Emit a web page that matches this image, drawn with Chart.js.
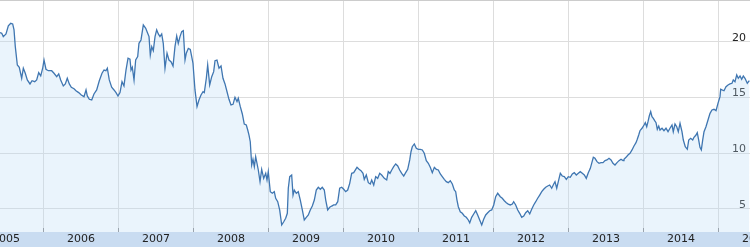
<!DOCTYPE html>
<html>
<head>
  <meta charset="utf-8">
  <title>Chart</title>
  <script src="https://cdn.jsdelivr.net/npm/chart.js@4.4.1/dist/chart.umd.min.js"></script>
  <style>
    html, body { margin: 0; padding: 0; background: #fff; }
    #wrap { width: 750px; height: 247px; }
  </style>
</head>
<body>
  <div id="wrap"><canvas id="myChart" width="750" height="247"></canvas></div>

  <script>
    // time as decimal years, value of the series
    const times = [
      2005.420, 2005.443, 2005.464, 2005.500, 2005.531, 2005.563, 2005.589, 2005.607, 2005.624, 2005.651,
      2005.677, 2005.709, 2005.731, 2005.757, 2005.784, 2005.820, 2005.847, 2005.883, 2005.909, 2005.936,
      2005.963, 2005.989, 2006.007, 2006.033, 2006.064, 2006.109, 2006.140, 2006.176, 2006.203, 2006.229,
      2006.264, 2006.291, 2006.317, 2006.344, 2006.371, 2006.407, 2006.433, 2006.469, 2006.504, 2006.540,
      2006.567, 2006.584, 2006.611, 2006.643, 2006.673, 2006.709, 2006.744, 2006.780, 2006.807, 2006.833,
      2006.851, 2006.877, 2006.909, 2006.940, 2006.967, 2006.993, 2007.020, 2007.047, 2007.073, 2007.100,
      2007.127, 2007.153, 2007.167, 2007.184, 2007.207, 2007.229, 2007.256, 2007.273, 2007.300, 2007.331,
      2007.363, 2007.389, 2007.407, 2007.424, 2007.443, 2007.464, 2007.487, 2007.509, 2007.531, 2007.553,
      2007.576, 2007.597, 2007.620, 2007.647, 2007.673, 2007.700, 2007.727, 2007.753, 2007.776, 2007.797,
      2007.820, 2007.843, 2007.864, 2007.887, 2007.904, 2007.931, 2007.957, 2007.976, 2007.993, 2008.020,
      2008.047, 2008.073, 2008.100, 2008.127, 2008.144, 2008.171, 2008.189, 2008.216, 2008.243, 2008.269,
      2008.287, 2008.313, 2008.340, 2008.367, 2008.393, 2008.420, 2008.447, 2008.473, 2008.500, 2008.527,
      2008.553, 2008.580, 2008.597, 2008.624, 2008.651, 2008.677, 2008.704, 2008.723, 2008.740, 2008.757,
      2008.776, 2008.793, 2008.811, 2008.829, 2008.864, 2008.887, 2008.909, 2008.936, 2008.963, 2008.980,
      2008.997, 2009.024, 2009.051, 2009.077, 2009.096, 2009.123, 2009.149, 2009.176, 2009.203, 2009.229,
      2009.251, 2009.264, 2009.283, 2009.309, 2009.327, 2009.344, 2009.371, 2009.397, 2009.424, 2009.451,
      2009.477, 2009.504, 2009.531, 2009.557, 2009.584, 2009.611, 2009.637, 2009.664, 2009.691, 2009.717,
      2009.744, 2009.763, 2009.789, 2009.816, 2009.843, 2009.869, 2009.896, 2009.923, 2009.949, 2009.976,
      2010.003, 2010.029, 2010.056, 2010.083, 2010.109, 2010.136, 2010.163, 2010.180, 2010.207, 2010.233,
      2010.260, 2010.277, 2010.304, 2010.331, 2010.357, 2010.376, 2010.403, 2010.429, 2010.456, 2010.483,
      2010.509, 2010.544, 2010.576, 2010.597, 2010.620, 2010.643, 2010.669, 2010.696, 2010.723, 2010.749,
      2010.776, 2010.803, 2010.829, 2010.856, 2010.883, 2010.900, 2010.917, 2010.944, 2010.971, 2010.997,
      2011.024, 2011.051, 2011.077, 2011.104, 2011.131, 2011.157, 2011.184, 2011.211, 2011.237, 2011.264,
      2011.291, 2011.317, 2011.344, 2011.371, 2011.397, 2011.424, 2011.451, 2011.477, 2011.496, 2011.513,
      2011.531, 2011.557, 2011.584, 2011.611, 2011.637, 2011.664, 2011.683, 2011.709, 2011.736, 2011.763,
      2011.789, 2011.816, 2011.843, 2011.869, 2011.896, 2011.923, 2011.949, 2011.976, 2012.003, 2012.029,
      2012.056, 2012.091, 2012.117, 2012.144, 2012.171, 2012.197, 2012.224, 2012.251, 2012.269, 2012.296,
      2012.323, 2012.349, 2012.376, 2012.403, 2012.429, 2012.456, 2012.483, 2012.509, 2012.536, 2012.563,
      2012.589, 2012.616, 2012.643, 2012.669, 2012.696, 2012.723, 2012.749, 2012.776, 2012.803, 2012.820,
      2012.843, 2012.864, 2012.891, 2012.917, 2012.944, 2012.971, 2012.997, 2013.024, 2013.051, 2013.077,
      2013.104, 2013.131, 2013.157, 2013.184, 2013.211, 2013.237, 2013.264, 2013.291, 2013.309, 2013.331,
      2013.353, 2013.380, 2013.407, 2013.433, 2013.460, 2013.487, 2013.513, 2013.540, 2013.567, 2013.593,
      2013.620, 2013.647, 2013.673, 2013.700, 2013.727, 2013.740, 2013.767, 2013.793, 2013.820, 2013.847,
      2013.873, 2013.900, 2013.917, 2013.936, 2013.953, 2013.980, 2014.007, 2014.024, 2014.043, 2014.060,
      2014.077, 2014.096, 2014.113, 2014.131, 2014.149, 2014.167, 2014.184, 2014.203, 2014.220, 2014.247,
      2014.273, 2014.300, 2014.327, 2014.353, 2014.380, 2014.397, 2014.420, 2014.443, 2014.464, 2014.487,
      2014.513, 2014.531, 2014.557, 2014.584, 2014.603, 2014.629, 2014.656, 2014.673, 2014.700, 2014.717,
      2014.736, 2014.753, 2014.771, 2014.789, 2014.807, 2014.833, 2014.860, 2014.887, 2014.913, 2014.940,
      2014.967, 2014.993, 2015.020, 2015.029, 2015.047, 2015.073, 2015.100, 2015.127, 2015.153, 2015.180,
      2015.197, 2015.220, 2015.243, 2015.264, 2015.287, 2015.309, 2015.331, 2015.353, 2015.384, 2015.411
    ];

    const values = [
      20.84, 20.78, 20.48, 20.72, 21.44, 21.68, 21.62, 21.08, 19.58, 17.93,
      17.73, 16.74, 17.64, 17.19, 16.59, 16.23, 16.52, 16.43, 16.59, 17.24,
      16.95, 17.64, 18.38, 17.55, 17.42, 17.42, 17.19, 16.88, 17.13, 16.59,
      16.05, 16.23, 16.74, 16.23, 15.93, 15.80, 15.62, 15.45, 15.24, 15.09,
      15.69, 15.15, 14.85, 14.79, 15.33, 15.69, 16.52, 17.19, 17.48, 17.42,
      17.64, 16.59, 15.93, 15.69, 15.45, 15.15, 15.45, 16.43, 16.05, 17.48,
      18.54, 18.45, 17.48, 17.73, 16.59, 18.38, 18.68, 19.88, 20.18, 21.53,
      21.23, 20.78, 20.48, 18.83, 19.58, 19.22, 20.48, 21.08, 20.72, 20.48,
      20.72, 19.88, 17.64, 18.99, 18.38, 18.23, 17.84, 19.58, 20.54, 19.88,
      20.48, 20.93, 21.02, 18.38, 18.99, 19.43, 19.34, 18.68, 18.09, 15.69,
      14.19, 14.79, 15.24, 15.53, 15.45, 16.74, 17.93, 16.14, 16.88, 17.33,
      18.32, 18.38, 17.64, 17.84, 16.74, 16.23, 15.53, 14.85, 14.34, 14.40,
      15.03, 14.64, 14.94, 14.19, 13.53, 12.63, 12.54, 12.09, 11.64, 11.04,
      8.95, 9.46, 8.80, 9.69, 8.50, 7.45, 8.56, 7.75, 8.20, 7.60,
      8.35, 6.55, 6.41, 6.55, 5.96, 5.65, 4.91, 3.56, 3.85, 4.16,
      4.61, 6.86, 7.90, 8.05, 6.25, 6.70, 6.41, 6.55, 5.80, 4.91,
      4.01, 4.25, 4.46, 4.91, 5.26, 5.80, 6.70, 6.95, 6.77, 6.95,
      6.70, 5.80, 4.91, 5.15, 5.26, 5.36, 5.36, 5.65, 6.86, 6.95,
      6.77, 6.55, 6.70, 7.30, 8.20, 8.26, 8.56, 8.74, 8.56, 8.44,
      8.20, 7.66, 8.05, 7.36, 7.24, 7.60, 7.15, 7.90, 7.75, 8.20,
      8.05, 7.75, 7.60, 8.35, 8.20, 8.50, 8.80, 9.04, 8.86, 8.50,
      8.20, 7.96, 8.26, 8.56, 9.40, 10.14, 10.59, 10.84, 10.45, 10.36,
      10.36, 10.30, 10.00, 9.34, 9.10, 8.74, 8.26, 8.74, 8.56, 8.50,
      8.14, 7.90, 7.66, 7.45, 7.36, 7.54, 7.24, 6.70, 6.55, 5.80,
      5.20, 4.75, 4.61, 4.37, 4.25, 4.01, 3.76, 4.25, 4.55, 4.84,
      4.46, 4.01, 3.56, 4.07, 4.46, 4.66, 4.84, 4.91, 5.36, 6.10,
      6.41, 6.10, 5.96, 5.74, 5.56, 5.44, 5.36, 5.44, 5.65, 5.36,
      4.91, 4.61, 4.25, 4.37, 4.66, 4.84, 4.55, 4.97, 5.36, 5.65,
      5.96, 6.25, 6.55, 6.77, 6.95, 7.06, 7.15, 6.86, 7.24, 7.45,
      6.86, 7.45, 8.20, 7.96, 7.90, 7.66, 7.90, 7.84, 8.14, 8.26,
      8.05, 8.20, 8.35, 8.20, 8.05, 7.75, 8.26, 8.65, 9.10, 9.64,
      9.55, 9.25, 9.10, 9.16, 9.16, 9.34, 9.40, 9.55, 9.40, 9.10,
      8.95, 9.16, 9.34, 9.46, 9.34, 9.46, 9.64, 9.85, 10.00, 10.30,
      10.66, 10.95, 11.26, 11.64, 12.03, 12.25, 12.54, 12.75, 12.39, 12.84,
      13.35, 13.74, 13.29, 13.14, 12.93, 12.75, 12.16, 12.45, 12.09, 12.25,
      12.03, 12.25, 11.94, 12.25, 12.54, 11.94, 12.63, 12.39, 11.94, 12.70,
      11.94, 11.19, 10.59, 10.36, 11.19, 11.35, 11.19, 11.44, 11.64, 11.85,
      11.19, 10.54, 10.30, 11.19, 11.94, 12.39, 12.99, 13.59, 13.89, 13.95,
      13.83, 14.49, 15.09, 15.75, 15.69, 15.62, 15.98, 16.14, 16.23, 16.29,
      16.59, 16.43, 17.04, 16.74, 16.95, 16.65, 16.95, 16.74, 16.29, 16.52
    ];

    const yearLabels = ['2005', '2006', '2007', '2008', '2009', '2010', '2011', '2012', '2013', '2014', '2015'];
    const yearLines = [2006, 2007, 2008, 2009, 2010, 2011, 2012, 2013, 2014, 2015];
    const yTicks = [5, 10, 15, 20];

    const xMin = 2005.42, xMax = 2015.42;
    const yMin = 2.93, yMax = 23.77;

    const tickFont = { family: 'DejaVu Sans', size: 11 };

    // light blue band under the plot, top border, small year ticks
    const decor = {
      id: 'decor',
      beforeDraw(chart) {
        const { ctx, chartArea, width, height } = chart;
        ctx.save();
        ctx.fillStyle = '#ffffff';
        ctx.fillRect(0, 0, width, height);
        ctx.fillStyle = '#c9dcf1';
        ctx.fillRect(0, chartArea.bottom, width, height - chartArea.bottom);
        ctx.restore();
      },
      afterDraw(chart) {
        const { ctx, chartArea, width } = chart;
        const xs = chart.scales.x;
        ctx.save();
        ctx.strokeStyle = '#cccccc';
        ctx.lineWidth = 1;
        ctx.beginPath();
        ctx.moveTo(0, 0.5);
        ctx.lineTo(width, 0.5);
        ctx.stroke();
        ctx.strokeStyle = '#9aa3ad';
        yearLines.forEach(y => {
          const px = Math.round(xs.getPixelForValue(y)) + 0.5;
          ctx.beginPath();
          ctx.moveTo(px, chartArea.bottom - 4);
          ctx.lineTo(px, chartArea.bottom);
          ctx.stroke();
        });
        ctx.restore();
      }
    };

    const ctx = document.getElementById('myChart').getContext('2d');
    const myChart = new Chart(ctx, {
      type: 'line',
      data: {
        datasets: [{
          data: times.map((t, i) => ({ x: t, y: values[i] })),
          borderColor: '#3f76b1',
          borderWidth: 1.3,
          backgroundColor: 'rgba(185, 220, 245, 0.3)',
          fill: 'start',
          pointRadius: 0,
          tension: 0
        }]
      },
      options: {
        responsive: false,
        animation: false,
        layout: { padding: 0 },
        plugins: {
          legend: { display: false },
          tooltip: { enabled: false }
        },
        scales: {
          x: {
            type: 'linear',
            min: xMin,
            max: xMax,
            position: 'bottom',
            border: { display: false },
            grid: { color: '#dddddd', drawTicks: false },
            ticks: { display: false },
            afterBuildTicks: s => { s.ticks = yearLines.map(v => ({ value: v })); },
            afterFit: s => { s.height = 0; s.paddingLeft = 0; s.paddingRight = 0; }
          },
          xl: {
            type: 'linear',
            min: xMin,
            max: xMax,
            position: 'bottom',
            border: { display: false },
            grid: { display: false, drawTicks: false },
            ticks: {
              autoSkip: false,
              maxRotation: 0,
              padding: 1,
              color: '#222222',
              font: tickFont,
              callback: v => String(Math.floor(v))
            },
            afterBuildTicks: s => { s.ticks = yearLabels.map(l => ({ value: Number(l) + 0.5 })); },
            afterFit: s => { s.height = 15; s.paddingLeft = 0; s.paddingRight = 0; }
          },
          y: {
            type: 'linear',
            position: 'right',
            min: yMin,
            max: yMax,
            border: { display: false },
            grid: { color: '#dddddd', drawTicks: false },
            ticks: {
              mirror: true,
              padding: -4,
              labelOffset: -4,
              color: '#222222',
              font: tickFont
            },
            afterBuildTicks: s => { s.ticks = yTicks.map(v => ({ value: v })); },
            afterFit: s => { s.width = 0; s.paddingTop = 0; s.paddingBottom = 0; }
          }
        }
      },
      plugins: [decor]
    });
  </script>
</body>
</html>
